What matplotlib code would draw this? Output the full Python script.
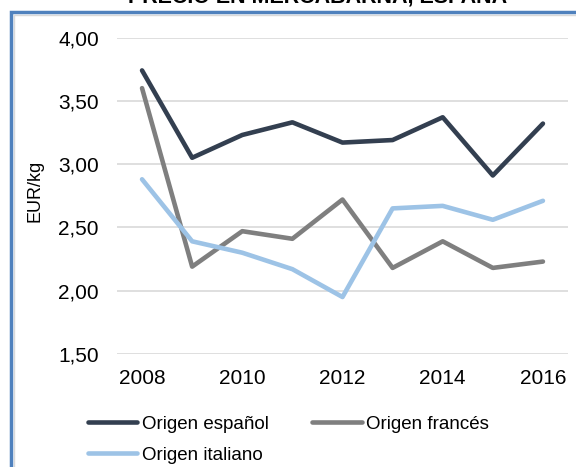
import numpy as np
import matplotlib.pyplot as plt
import matplotlib.patches as patches
from matplotlib.ticker import FuncFormatter

plt.rcParams['font.family'] = ['Liberation Sans', 'DejaVu Sans']

# datos (EUR/kg)
anios = [2008, 2009, 2010, 2011, 2012, 2013, 2014, 2015, 2016]
origen_espanol = [3.74, 3.05, 3.23, 3.33, 3.17, 3.19, 3.37, 2.91, 3.32]
origen_frances = [3.60, 2.19, 2.47, 2.41, 2.72, 2.18, 2.39, 2.18, 2.23]
origen_italiano = [2.88, 2.39, 2.30, 2.17, 1.95, 2.65, 2.67, 2.56, 2.71]
nombres = ["Origen español", "Origen francés", "Origen italiano"]
colores = ["#333F50", "#7F7F7F", "#9DC3E6"]

fig = plt.figure(figsize=(5.76, 4.67), dpi=100)
ax = fig.add_axes([0.2031, 0.2420, 0.7830, 0.6777])

lineas = []
for serie, nombre, c in zip([origen_espanol, origen_frances, origen_italiano], nombres, colores):
    l, = ax.plot(anios, serie, color=c, lw=3.3, label=nombre, solid_capstyle="round")
    lineas.append(l)

ax.set_xlim(2007.5, 2016.5)
ax.set_ylim(1.5, 4.0)
ax.set_yticks([1.5, 2.0, 2.5, 3.0, 3.5, 4.0])
ax.set_xticks(anios[::2])
ax.yaxis.set_major_formatter(FuncFormatter(lambda v, p: ("%.2f" % v).replace(".", ",")))
ax.grid(axis="y", color="#D9D9D9", lw=1.2)
ax.set_axisbelow(True)
for s in ax.spines.values():
    s.set_visible(False)
ax.tick_params(length=0, labelsize=15, colors="black")
ax.tick_params(axis="y", pad=13)
ax.tick_params(axis="x", pad=11)
ax.set_ylabel("EUR/kg", fontsize=13)
ax.yaxis.set_label_coords(-0.162, 0.515)

# titulo cortado arriba
fig.text(0.552, 1.0 - 2 / 467, "PRECIO EN MERCABARNA, ESPAÑA", ha="center", va="baseline",
         fontsize=15.5, fontweight="bold")

# borde del cuadro
fig.patches.append(patches.Rectangle((11 / 576, -0.1), 1.2, 1.0 - 12 / 467 + 0.1, transform=fig.transFigure,
                                     fill=False, ec="#4F81BD", lw=2.5, zorder=5))
fig.patches.append(patches.Rectangle((13.5 / 576, -0.1), 1.2, 1.0 - 14.5 / 467 + 0.1, transform=fig.transFigure,
                                     fill=False, ec="#D9D9D9", lw=1, zorder=4))

# orden por filas: español, francés / italiano
orden = [lineas[0], lineas[2], lineas[1]]
fig.legend(orden, [l.get_label() for l in orden], loc="upper left",
           bbox_to_anchor=(80 / 576, 1 - 408 / 467), ncol=2, frameon=False,
           fontsize=13.5, handlelength=2.65, handletextpad=0.25, columnspacing=2.3,
           labelspacing=0.75, borderaxespad=0)

fig.savefig("out.png", dpi=100)
